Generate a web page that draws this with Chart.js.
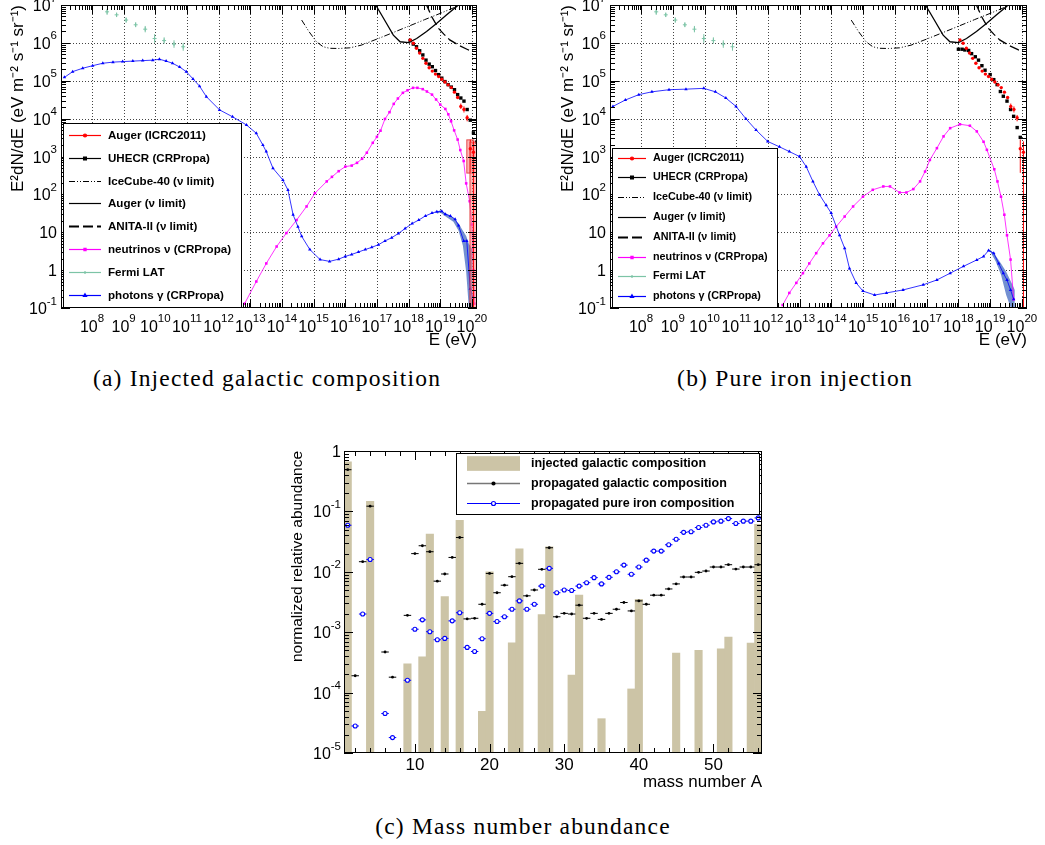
<!DOCTYPE html>
<html>
<head>
<meta charset="utf-8">
<script src="https://cdn.jsdelivr.net/npm/chart.js@4.4.1/dist/chart.umd.min.js"></script>
<style>
  body { margin: 0; background: #fff; width: 1045px; height: 845px; position: relative; overflow: hidden; }
  canvas { position: absolute; }
  .cap { position: absolute; font-family: "Liberation Serif", "DejaVu Serif", serif; font-size: 23.5px; letter-spacing: 1.2px;
         color: #000; transform: translateX(-50%); white-space: nowrap; line-height: 24px; }
</style>
</head>
<body>
<canvas id="chartA" width="490" height="352" style="left:0;top:0"></canvas>
<canvas id="chartB" width="500" height="352" style="left:540px;top:0"></canvas>
<canvas id="chartC" width="490" height="355" style="left:280px;top:440px"></canvas>
<div class="cap" style="left:267px;top:366px">(a) Injected galactic composition</div>
<div class="cap" style="left:795px;top:366px">(b) Pure iron injection</div>
<div class="cap" style="left:523px;top:814px">(c) Mass number abundance</div>
<script>
// ---------- spectra (a) and (b): E in eV, E^2 dN/dE in eV m^-2 s^-1 sr^-1 ----------
const fermiE  = [3.0e8, 6.0e8, 1.2e9, 2.4e9, 4.8e9, 9.5e9, 1.9e10, 3.9e10, 7.6e10];
const fermiF  = [6.6e6, 5.5e6, 4.0e6, 3.0e6, 2.3e6, 1.3e6, 1.15e6, 9.3e5, 7.9e5];
const fermiLo = [5.5e6, 4.8e6, 3.4e6, 2.6e6, 1.9e6, 1.0e6, 9.5e5, 7.4e5, 6.2e5];
const fermiHi = [7.9e6, 6.3e6, 4.7e6, 3.5e6, 2.8e6, 1.7e6, 1.4e6, 1.17e6, 1.0e6];

const augerE  = [1.12e18, 1.41e18, 1.78e18, 2.24e18, 2.82e18, 3.55e18, 4.47e18, 5.62e18, 7.08e18, 8.91e18,
                 1.12e19, 1.41e19, 1.78e19, 2.24e19, 2.82e19, 3.55e19, 4.47e19, 5.62e19, 7.08e19, 8.91e19, 1.12e20];
const augerF  = [1.2e6, 9.8e5, 7.2e5, 5.4e5, 3.9e5, 2.9e5, 2.2e5, 1.8e5, 1.5e5, 1.3e5,
                 1.1e5, 9.3e4, 7.8e4, 6.6e4, 5.0e4, 3.6e4, 2.1e4, 1.75e4, 1.05e4, 1.6e3, 1.3e3];
const augerLo = [null, null, null, null, null, null, null, null, null, null,
                 null, null, null, null, null, null, 1.8e4, 1.45e4, 8.5e3, 370, 0.1];
const augerHi = [null, null, null, null, null, null, null, null, null, null,
                 null, null, null, null, null, null, 2.5e4, 2.1e4, 1.25e4, 2.8e3, 2.5e3];
const augerSysLo = [null, null, null, null, null, null, null, null, null, null,
                    null, null, null, null, null, null, null, null, null, 365, 0.1];
const augerSysHi = [null, null, null, null, null, null, null, null, null, null,
                    null, null, null, null, null, null, null, null, null, 2.75e3, 2.4e3];

const iceCubeE = [4.2e14, 7.1e14, 1.23e15, 2.0e15, 3.2e15, 6.3e15, 1.4e16, 3.2e16, 1e17, 3.2e17, 1e18, 3.2e18, 1e19, 3.5e19, 5e19];
const iceCubeF = [4.0e6, 2.0e6, 1.07e6, 7.9e5, 7.2e5, 7.1e5, 7.4e5, 8.7e5, 1.26e6, 1.86e6, 2.75e6, 4.1e6, 6.0e6, 9.3e6, 1.05e7];
const augerNuE = [9.0e16, 9.8e16, 2.0e17, 3.3e17, 5.4e17, 1.0e18, 1.8e18, 3.7e18, 7.8e18, 1.6e19, 3.3e19, 3.8e19];
const augerNuF = [1.1e7, 9.1e6, 3.3e6, 1.6e6, 1.07e6, 1.02e6, 1.3e6, 2.0e6, 3.3e6, 5.5e6, 9.1e6, 1.05e7];
const anitaE   = [3.5e18, 5.4e18, 8.7e18, 1.3e19, 2.0e19, 4.0e19, 7.8e19, 1.0e20];
const anitaF   = [1.1e7, 4.9e6, 2.45e6, 1.7e6, 1.2e6, 8.5e5, 6.5e5, 6.2e5];

// (a) galactic composition
const uhecrGalE = [1.12e18, 1.41e18, 1.78e18, 2.24e18, 2.82e18, 3.55e18, 4.47e18, 5.62e18, 7.08e18, 8.91e18, 1.12e19,
                   1.41e19, 1.78e19, 2.24e19, 2.82e19, 3.55e19, 4.47e19, 5.62e19, 7.08e19, 8.91e19, 1.12e20, 1.41e20];
const uhecrGalF = [1.15e6, 9.3e5, 7.9e5, 6.2e5, 4.8e5, 3.5e5, 2.75e5, 2.35e5, 1.86e5, 1.45e5, 1.17e5,
                   9.5e4, 7.9e4, 6.8e4, 5.8e4, 4.3e4, 3.5e4, 2.9e4, 1.74e4, 9.1e3, 4.2e3, 2.4e3];
const nuGalE = [6.6e12, 1.55e13, 3.2e13, 6.8e13, 1.38e14, 2.9e14, 6.0e14, 1.1e15, 2.6e15, 3.8e15,
                6.2e15, 1.0e16, 1.6e16, 2.35e16, 3.4e16, 4.8e16, 7.4e16, 1.0e17, 1.3e17, 1.8e17,
                2.5e17, 3.4e17, 4.6e17, 6.6e17, 9.3e17, 1.38e18, 1.9e18, 2.8e18, 3.8e18, 5.5e18,
                7.4e18, 1.0e19, 1.45e19, 1.8e19, 2.2e19, 2.75e19, 3.55e19, 4.3e19, 5.5e19, 6.6e19,
                8.5e19, 1.0e20, 1.12e20, 1.2e20];
const nuGalF = [0.13, 0.5, 1.5, 4.2, 9.5, 21, 48, 107, 220, 290,
                410, 540, 575, 680, 870, 1260, 2300, 3300, 4800, 9800,
                14800, 24500, 34000, 48000, 56000, 65000, 65000, 60000, 52000, 43000,
                32000, 23500, 18000, 13000, 8500, 4900, 2800, 1480, 760, 195,
                66, 16, 1.0, 0.13];
const gammaGalE = [1.35e7, 2.45e7, 5.1e7, 1.05e8, 2.2e8, 4.6e8, 9.3e8, 1.95e9, 4.0e9, 8.3e9,
                   1.35e10, 2.2e10, 3.5e10, 5.9e10, 9.5e10, 1.55e11, 2.5e11, 4.1e11, 1.07e12, 2.75e12,
                   7.6e12, 1.55e13, 2.5e13, 3.2e13, 5.2e13, 1.07e14, 1.55e14, 2.25e14, 3.2e14, 4.2e14,
                   7.6e14, 1.6e15, 3.2e15, 6.2e15, 1.0e16, 1.6e16, 2.6e16, 4.3e16, 6.9e16, 1.12e17,
                   1.8e17, 2.95e17, 4.8e17, 7.8e17, 1.3e18, 2.1e18, 3.4e18, 5.5e18, 7.8e18, 1.12e19,
                   1.45e19, 2.1e19, 2.95e19, 3.8e19, 5.5e19, 6.9e19, 8.9e19, 1.07e20];
const gammaGalF = [1.23e5, 1.74e5, 2.14e5, 2.5e5, 2.9e5, 3.1e5, 3.2e5, 3.3e5, 3.4e5, 3.5e5,
                   3.7e5, 3.3e5, 2.9e5, 2.3e5, 1.74e5, 1.12e5, 7.2e4, 3.8e4, 1.7e4, 1.12e4,
                   6.8e3, 4.1e3, 2.0e3, 1.35e3, 490, 240, 130, 29, 14, 7.8,
                   3.5, 1.9, 1.7, 1.95, 2.3, 2.6, 3.0, 3.5, 4.0, 4.7,
                   5.9, 7.2, 9.3, 12.6, 17, 21, 27, 32, 35, 36,
                   30, 27, 22, 15, 5.9, 5.9, 0.32, 0.19];
const bandGalE  = [7.8e18, 1.0e19, 1.6e19, 2.6e19, 3.8e19, 5.2e19, 6.6e19, 8.0e19, 1.05e20];
const bandGalHi = [33, 38, 31, 24, 17, 11, 8, 5, 3.5];
const bandGalLo = [31, 33, 25, 19, 11, 4.4, 0.9, 0.1, 0.1];

// (b) pure iron injection
const uhecrFeE = [1.0e18, 1.3e18, 1.6e18, 2.1e18, 2.6e18, 3.4e18, 4.3e18, 5.5e18, 6.9e18, 1.0e19,
                  1.3e19, 1.66e19, 2.1e19, 2.6e19, 3.4e19, 4.4e19, 5.5e19, 7.1e19, 8.9e19];
const uhecrFeF = [6.8e5, 6.8e5, 6.5e5, 6.3e5, 5.2e5, 4.3e5, 3.5e5, 2.5e5, 1.9e5, 1.45e5,
                  1.07e5, 7.9e4, 5.2e4, 3.9e4, 2.9e4, 1.74e4, 1.15e4, 5.8e3, 3.2e3];
const nuFeE = [2.9e12, 4.7e12, 7.8e12, 1.26e13, 2.0e13, 3.3e13, 5.4e13, 8.7e13, 1.4e14, 2.6e14,
               4.8e14, 9.8e14, 2.0e15, 4.3e15, 7e15, 1.4e16, 2.3e16, 3.8e16, 6.2e16, 8.9e16,
               1.26e17, 2.1e17, 3.4e17, 5.5e17, 1.12e18, 2.3e18, 3.8e18, 6.2e18, 7.9e18, 1.35e19,
               1.7e19, 2.2e19, 2.8e19, 3.4e19, 4.4e19, 5.5e19];
const nuFeF = [0.12, 0.25, 0.46, 0.83, 1.5, 2.8, 5.1, 8.3, 14, 26,
               48, 87, 132, 162, 162, 112, 112, 138, 220, 400,
               810, 1660, 3400, 5600, 7100, 6500, 4600, 2450, 1500, 460,
               220, 87, 29, 8.3, 1.9, 0.17];
const gammaFeE = [1.3e7, 3.2e7, 8.5e7, 2.2e8, 7.6e8, 2.6e9, 9.5e9, 2.2e10, 4.7e10, 9.8e10,
                  2.0e11, 4.2e11, 9.8e11, 2.3e12, 4.7e12, 9.8e12, 1.6e13, 2.6e13, 4.2e13, 6.8e13,
                  9.8e13, 1.8e14, 2.6e14, 3.7e14, 6.0e14, 9.8e14, 2.3e15, 5.4e15, 1.8e16, 7.8e16,
                  2.1e17, 5.5e17, 1.45e18, 3.8e18, 6.2e18, 8.9e18, 1.3e19, 1.86e19, 2.6e19, 3.4e19,
                  4.4e19, 5.5e19];
const gammaFeF = [2.1e4, 3.1e4, 4.3e4, 5.1e4, 5.8e4, 6.0e4, 6.3e4, 5.1e4, 3.5e4, 2.1e4,
                  1.0e4, 5.0e3, 2.5e3, 1.8e3, 1.35e3, 1.0e3, 540, 220, 98, 52,
                  32, 8.3, 3.8, 1.1, 0.46, 0.28, 0.22, 0.25, 0.3, 0.41,
                  0.55, 0.83, 1.26, 1.86, 2.3, 3.3, 2.8, 1.5, 0.83, 0.55,
                  0.3, 0.17];
const bandFeE  = [8.9e18, 1.0e19, 1.5e19, 2.2e19, 3.2e19, 4.5e19, 6.0e19];
const bandFeHi = [3.4, 3.5, 2.4, 1.5, 0.9, 0.5, 0.3];
const bandFeLo = [3.2, 3.1, 1.7, 0.75, 0.22, 0.1, 0.1];

const eTicks    = [1e8, 1e9, 1e10, 1e11, 1e12, 1e13, 1e14, 1e15, 1e16, 1e17, 1e18, 1e19, 1e20];
const fluxTicks = [0.1, 1, 10, 100, 1e3, 1e4, 1e5, 1e6, 1e7];

// ---------- (c) mass number abundance ----------
const injA   = [1, 4, 9, 11, 12, 14, 16, 19, 20, 23, 24, 27, 28, 31, 32, 35, 39, 40, 45, 48, 51, 52, 55, 56];
const injVal = [0.66, 0.147, 3.0e-4, 3.9e-4, 0.042, 3.9e-3, 0.071, 4.9e-5, 0.01, 6.7e-4, 0.024, 1.95e-3,
                0.026, 1.95e-4, 4.1e-3, 3.7e-5, 1.15e-4, 3.5e-3, 4.5e-4, 5.0e-4, 5.3e-4, 8.3e-4, 6.6e-4, 0.061];
const propA  = [1, 2, 3, 4, 6, 7, 9, 10, 11, 12, 13, 14, 15, 16, 17, 18, 19, 20, 21, 22, 23, 24, 25, 26, 27, 28,
                29, 30, 31, 32, 33, 34, 35, 36, 37, 38, 39, 40, 41, 42, 43, 44, 45, 46, 47, 48, 49, 50, 51, 52, 53, 54, 55, 56];
const propGal = [0.49, 1.9e-4, 0.0147, 0.122, 4.7e-4, 1.8e-4,
                 1.9e-3, 0.02, 0.027, 0.0215, 7.0e-3, 9.2e-3, 0.0173, 0.037, 1.66e-3, 1.7e-3,
                 2.9e-3, 9.4e-3, 4.5e-3, 6.0e-3, 8.3e-3, 0.0138, 4.0e-3, 5.0e-3, 0.011, 0.025,
                 1.8e-3, 2.05e-3, 2.0e-3, 2.8e-3, 1.7e-3, 2.05e-3, 1.63e-3, 2.05e-3, 2.4e-3, 3.1e-3,
                 2.25e-3, 3.3e-3, 2.9e-3, 4.1e-3, 4.1e-3, 5.2e-3, 6.3e-3, 8.2e-3, 8.2e-3, 9.8e-3,
                 0.0103, 0.012, 0.012, 0.0131, 0.0111, 0.012, 0.012, 0.0131];
const propFe  = [0.059, 2.8e-5, 2.0e-3, 0.016, 4.5e-5, 1.8e-5,
                 1.6e-4, 1.12e-3, 1.6e-3, 1.02e-3, 7.5e-4, 7.9e-4, 1.54e-3, 2.1e-3, 5.6e-4, 4.8e-4,
                 7.8e-4, 2.05e-3, 1.5e-3, 1.8e-3, 2.4e-3, 3.3e-3, 2.4e-3, 2.9e-3, 5.8e-3, 0.0114,
                 4.5e-3, 5.0e-3, 4.9e-3, 5.8e-3, 6.6e-3, 8.0e-3, 6.3e-3, 8.1e-3, 0.01, 0.0129,
                 9.1e-3, 0.012, 0.0156, 0.022, 0.022, 0.028, 0.0345, 0.045, 0.046, 0.054,
                 0.059, 0.067, 0.069, 0.076, 0.063, 0.069, 0.069, 0.078];
const massTicks  = [10, 20, 30, 40, 50];
const abundTicks = [1e-5, 1e-4, 1e-3, 1e-2, 0.1, 1];

// ---------- helpers ----------
const FONT = '"Liberation Sans", Arial, Helvetica, sans-serif';
Chart.defaults.font.family = FONT;
Chart.defaults.color = '#000';

function pts(xs, ys) { return xs.map((x, i) => ({ x: x, y: ys[i] })); }
function zeroPad(s) { s.paddingLeft = 0; s.paddingRight = 0; s.paddingTop = 0; s.paddingBottom = 0; }

// tick label with a real raised exponent ("10" + "8"), baseline at y
function drawTickLabel(ctx, v, x, y, align, o) {
  let base = String(v), exp = '';
  if (o.pow) {
    const e = Math.round(Math.log10(v));
    base = e === 0 ? '1' : '10';
    exp = (e === 0 || e === 1) ? '' : String(e);
  }
  ctx.font = o.size + 'px ' + FONT;
  const wb = ctx.measureText(base).width;
  ctx.font = o.supSize + 'px ' + FONT;
  const we = exp ? ctx.measureText(exp).width : 0;
  const x0 = align === 'center' ? x - (wb + we) / 2 : x - (wb + we);
  ctx.textAlign = 'left';
  ctx.textBaseline = 'alphabetic';
  ctx.font = o.size + 'px ' + FONT;
  ctx.fillText(base, x0, y);
  if (exp) {
    ctx.font = o.supSize + 'px ' + FONT;
    ctx.fillText(exp, x0 + wb, y - o.rise);
  }
}

// tick positions for the ROOT-like inner tick marks
function axisMarks(scale, o) {
  const out = [];
  if (o.type === 'log') {
    const e0 = Math.floor(Math.log10(scale.min)), e1 = Math.ceil(Math.log10(scale.max));
    for (let e = e0; e <= e1; e++) {
      for (let k = 1; k <= 9; k++) {
        const v = k * Math.pow(10, e);
        if (v >= scale.min * 0.9999 && v <= scale.max * 1.0001) out.push({ v: v, major: k === 1 });
      }
    }
  } else {
    for (let v = Math.ceil(scale.min / o.step) * o.step; v <= scale.max; v += o.step) {
      out.push({ v: v, major: Math.abs(v % o.majorStep) < 1e-9 });
    }
  }
  return out;
}

const rootFrame = {
  id: 'rootFrame',
  beforeDatasetsDraw(chart, args, opts) {
    if (!opts.grid) return;
    const { ctx, chartArea: a } = chart;
    const sx = chart.scales.x, sy = chart.scales.y;
    ctx.save();
    ctx.strokeStyle = '#444';
    ctx.lineWidth = 1;
    ctx.setLineDash([1, 2]);
    ctx.beginPath();
    sx.ticks.forEach(t => {
      const p = Math.round(sx.getPixelForValue(t.value)) + 0.5;
      if (p > a.left + 1 && p < a.right - 1) { ctx.moveTo(p, a.top); ctx.lineTo(p, a.bottom); }
    });
    sy.ticks.forEach(t => {
      const p = Math.round(sy.getPixelForValue(t.value)) + 0.5;
      if (p > a.top + 1 && p < a.bottom - 1) { ctx.moveTo(a.left, p); ctx.lineTo(a.right, p); }
    });
    ctx.stroke();
    ctx.restore();
  },
  afterDatasetsDraw(chart, args, opts) {
    if (!opts.x) return;
    const { ctx, chartArea: a } = chart;
    const sx = chart.scales.x, sy = chart.scales.y;
    ctx.save();
    ctx.strokeStyle = '#000';
    ctx.lineWidth = 1;
    ctx.beginPath();
    axisMarks(sx, opts.x).forEach(m => {
      const p = Math.round(sx.getPixelForValue(m.v)) + 0.5;
      const len = m.major ? opts.x.major : opts.x.minor;
      ctx.moveTo(p, a.bottom); ctx.lineTo(p, a.bottom - len);
      ctx.moveTo(p, a.top); ctx.lineTo(p, a.top + len);
    });
    axisMarks(sy, opts.y).forEach(m => {
      const p = Math.round(sy.getPixelForValue(m.v)) + 0.5;
      const len = m.major ? opts.y.major : opts.y.minor;
      ctx.moveTo(a.left, p); ctx.lineTo(a.left + len, p);
      ctx.moveTo(a.right, p); ctx.lineTo(a.right - len, p);
    });
    ctx.stroke();
    ctx.strokeRect(Math.round(a.left) + 0.5, Math.round(a.top) + 0.5,
                   Math.round(a.right - a.left) - 1, Math.round(a.bottom - a.top) - 1);
    // tick labels
    ctx.fillStyle = '#000';
    const lx = opts.xLabels, ly = opts.yLabels;
    sx.ticks.forEach(t => drawTickLabel(ctx, t.value, sx.getPixelForValue(t.value), a.bottom + lx.dy, 'center', lx));
    sy.ticks.forEach(t => drawTickLabel(ctx, t.value, a.left - ly.dx, sy.getPixelForValue(t.value) + ly.dy, 'right', ly));
    ctx.restore();
  }
};

// error bars, systematic boxes and bin-width bars, drawn under each dataset's markers
const errorBars = {
  id: 'errorBars',
  beforeDatasetDraw(chart, args) {
    const ds = chart.data.datasets[args.index];
    if (!ds.yLo && !ds.xErr && !ds.sysLo) return;
    const { ctx, chartArea: a } = chart;
    const sx = chart.scales.x, sy = chart.scales.y;
    ctx.save();
    ctx.beginPath();
    ctx.rect(a.left, a.top, a.right - a.left, a.bottom - a.top);
    ctx.clip();
    ds.data.forEach((p, i) => {
      const px = sx.getPixelForValue(p.x);
      if (ds.sysLo && ds.sysLo[i] != null) {
        const y0 = sy.getPixelForValue(ds.sysHi[i]), y1 = sy.getPixelForValue(ds.sysLo[i]);
        ctx.fillStyle = 'rgba(255,120,120,0.55)';
        ctx.strokeStyle = 'rgba(225,40,40,0.8)';
        ctx.lineWidth = 1;
        ctx.fillRect(px - 3.5, y0, 7, y1 - y0);
        ctx.strokeRect(px - 3.5, y0, 7, y1 - y0);
      }
      ctx.strokeStyle = ds.borderColor;
      ctx.lineWidth = 1;
      if (ds.yLo && ds.yLo[i] != null) {
        ctx.beginPath();
        ctx.moveTo(px, sy.getPixelForValue(ds.yLo[i]));
        ctx.lineTo(px, sy.getPixelForValue(ds.yHi[i]));
        ctx.stroke();
      }
      if (ds.xErr) {
        const py = sy.getPixelForValue(p.y);
        ctx.beginPath();
        ctx.moveTo(sx.getPixelForValue(p.x - ds.xErr), py);
        ctx.lineTo(sx.getPixelForValue(p.x + ds.xErr), py);
        ctx.stroke();
      }
    });
    ctx.restore();
  }
};

// ROOT-style legend box inside the frame
const rootLegend = {
  id: 'rootLegend',
  afterDraw(chart, args, o) {
    if (!o.items) return;
    const { ctx } = chart;
    ctx.save();
    ctx.fillStyle = '#fff';
    ctx.fillRect(o.x, o.y, o.w, o.h);
    ctx.strokeStyle = '#000';
    ctx.lineWidth = 1;
    ctx.strokeRect(o.x + 0.5, o.y + 0.5, o.w, o.h);
    o.items.forEach((it, i) => {
      const ds = chart.data.datasets.find(d => d.key === it.key);
      const y = Math.round(o.rowY + i * o.rowH) + 0.5;
      if (it.box) {
        ctx.fillStyle = ds.backgroundColor;
        ctx.fillRect(o.sx0, y - o.boxH / 2, o.sx1 - o.sx0, o.boxH);
      } else {
        ctx.strokeStyle = it.lineColor || ds.borderColor;
        ctx.lineWidth = it.lineWidth || 1.2;
        ctx.setLineDash(ds.borderDash || []);
        ctx.beginPath();
        ctx.moveTo(o.sx0, y);
        ctx.lineTo(o.sx1, y);
        ctx.stroke();
        ctx.setLineDash([]);
        if (it.marker) {
          ctx.fillStyle = ds.pointBackgroundColor || ds.backgroundColor || ds.borderColor;
          ctx.strokeStyle = ds.borderColor;
          Chart.helpers.drawPoint(ctx, { pointStyle: ds.pointStyle, radius: it.marker, borderWidth: ds.pointBorderWidth || 1, rotation: 0 },
                                  (o.sx0 + o.sx1) / 2, y);
        }
      }
      ctx.fillStyle = '#000';
      ctx.font = o.font;
      ctx.textAlign = 'left';
      ctx.textBaseline = 'middle';
      ctx.fillText(it.label, o.tx, y);
    });
    ctx.restore();
  }
};

Chart.register(rootFrame, errorBars, rootLegend);

const RED = '#ff0000', BLUE = '#0000ff', MAGENTA = '#ff00ff', TEAL = '#7cc4a6';
const POW_X = { pow: true, size: 16, supSize: 11.5, rise: 9.5, dy: 23.5 };
const POW_Y = { pow: true, size: 16, supSize: 11.5, rise: 9.5, dx: 4, dy: 6 };

function spectrumChart(id, p) {
  const datasets = [
    { key: 'bandHi', data: pts(p.bandE, p.bandHi), showLine: true, fill: '+1', backgroundColor: 'rgba(100,132,204,0.9)',
      borderWidth: 0, pointRadius: 0, order: 10 },
    { key: 'bandLo', data: pts(p.bandE, p.bandLo), showLine: true, fill: false, borderWidth: 0, pointRadius: 0, order: 10 },
    { key: 'fermi', data: pts(fermiE, fermiF), yLo: fermiLo, yHi: fermiHi, borderColor: TEAL, backgroundColor: TEAL,
      pointStyle: 'cross', pointRadius: 2, pointBorderWidth: 1, order: 8 },
    { key: 'gamma', data: pts(p.gammaE, p.gammaF), showLine: true, borderColor: BLUE, backgroundColor: BLUE, borderWidth: 0.8,
      pointStyle: 'triangle', pointRadius: 2, pointBorderWidth: 0, order: 6 },
    { key: 'nu', data: pts(p.nuE, p.nuF), showLine: true, borderColor: MAGENTA, backgroundColor: MAGENTA, borderWidth: 0.8,
      pointStyle: 'rect', pointRadius: 1.8, pointBorderWidth: 0, order: 6 },
    { key: 'ice', data: pts(iceCubeE, iceCubeF), showLine: true, borderColor: '#000', borderWidth: 1,
      borderDash: [6, 2, 1, 2, 1, 2], pointRadius: 0, order: 5 },
    { key: 'augerNu', data: pts(augerNuE, augerNuF), showLine: true, borderColor: '#000', borderWidth: 1.3, pointRadius: 0, order: 5 },
    { key: 'anita', data: pts(anitaE, anitaF), showLine: true, borderColor: '#000', borderWidth: 1.3,
      borderDash: [10, 4], pointRadius: 0, order: 5 },
    { key: 'uhecr', data: pts(p.uhecrE, p.uhecrF), borderColor: '#000', backgroundColor: '#000',
      pointStyle: 'rect', pointRadius: 2.4, pointBorderWidth: 0, order: 3 },
    { key: 'auger', data: pts(augerE, augerF), yLo: augerLo, yHi: augerHi,
      sysLo: p.sys ? augerSysLo : null, sysHi: p.sys ? augerSysHi : null,
      borderColor: RED, backgroundColor: RED, pointStyle: 'circle', pointRadius: 1.7, pointBorderWidth: 0, order: 2 }
  ];
  return new Chart(document.getElementById(id), {
    type: 'scatter',
    data: { datasets: datasets },
    options: {
      responsive: false, animation: false, events: [],
      layout: { padding: { left: 0, top: 5, right: p.padRight, bottom: 0 } },
      plugins: {
        legend: { display: false }, tooltip: { enabled: false },
        rootFrame: { grid: true, x: { type: 'log', major: 9, minor: 5 }, y: { type: 'log', major: 9, minor: 5 },
                     xLabels: POW_X, yLabels: POW_Y },
        rootLegend: Object.assign({
          items: [
            { key: 'auger', label: 'Auger (ICRC2011)', marker: 1.5 },
            { key: 'uhecr', label: 'UHECR (CRPropa)', marker: 2 },
            { key: 'ice', label: 'IceCube-40 (\u03BD limit)' },
            { key: 'augerNu', label: 'Auger (\u03BD limit)' },
            { key: 'anita', label: 'ANITA-II (\u03BD limit)', lineWidth: 1.8 },
            { key: 'nu', label: 'neutrinos \u03BD (CRPropa)', marker: 1.5 },
            { key: 'fermi', label: 'Fermi LAT', marker: 1.5 },
            { key: 'gamma', label: 'photons \u03B3 (CRPropa)', marker: 1.8 }
          ]
        }, p.legend)
      },
      scales: {
        x: {
          type: 'logarithmic', min: 1.05e7, max: 1.45e20,
          afterBuildTicks: s => { s.ticks = eTicks.map(v => ({ value: v })); },
          afterFit: s => { s.height = 44; zeroPad(s); },
          grid: { display: false, drawTicks: false }, border: { display: false },
          ticks: { display: false },
          title: { display: true, text: 'E (eV)', align: 'end', color: '#000', font: { family: FONT, size: 17 }, padding: { top: 0, bottom: 1 } }
        },
        y: {
          type: 'logarithmic', min: 0.1, max: 1e7,
          afterBuildTicks: s => { s.ticks = fluxTicks.map(v => ({ value: v })); },
          afterFit: s => { s.width = p.yWidth; zeroPad(s); },
          grid: { display: false, drawTicks: false }, border: { display: false },
          ticks: { display: false },
          title: { display: true, text: 'E\u00B2dN/dE (eV m\u207B\u00B2 s\u207B\u00B9 sr\u207B\u00B9)', align: 'end', color: '#000',
                   font: { family: FONT, size: 17 }, padding: { top: p.yTitlePad, bottom: 0 } }
        }
      }
    }
  });
}

spectrumChart('chartA', {
  bandE: bandGalE, bandHi: bandGalHi, bandLo: bandGalLo, gammaE: gammaGalE, gammaF: gammaGalF,
  nuE: nuGalE, nuF: nuGalF, uhecrE: uhecrGalE, uhecrF: uhecrGalF, sys: true,
  padRight: 13, yWidth: 61, yTitlePad: 8,
  legend: { x: 63, y: 123, w: 178, h: 184, rowY: 135, rowH: 22.8, sx0: 69, sx1: 101, tx: 108, font: 'bold 11.6px ' + FONT }
});
spectrumChart('chartB', {
  bandE: bandFeE, bandHi: bandFeHi, bandLo: bandFeLo, gammaE: gammaFeE, gammaF: gammaFeF,
  nuE: nuFeE, nuF: nuFeF, uhecrE: uhecrFeE, uhecrF: uhecrFeF, sys: false,
  padRight: 13, yWidth: 70, yTitlePad: 18,
  legend: { x: 72, y: 148, w: 165, h: 159, rowY: 157.5, rowH: 19.8, sx0: 78, sx1: 106, tx: 113, font: 'bold 10.8px ' + FONT }
});

// ---------- (c) ----------
new Chart(document.getElementById('chartC'), {
  type: 'bar',
  data: {
    datasets: [
      { key: 'inj', type: 'bar', data: pts(injA, injVal), backgroundColor: '#ccc4a6', borderWidth: 0,
        barPercentage: 1.0, categoryPercentage: 1.0, order: 3 },
      { key: 'gal', type: 'scatter', data: pts(propA, propGal), xErr: 0.5, borderColor: '#000', backgroundColor: '#000',
        pointStyle: 'circle', pointRadius: 1.4, pointBorderWidth: 0, order: 2 },
      { key: 'fe', type: 'scatter', data: pts(propA, propFe), xErr: 0.5, borderColor: BLUE, backgroundColor: '#fff',
        pointBackgroundColor: '#fff', pointStyle: 'circle', pointRadius: 2.0, pointBorderWidth: 1.1, order: 1 }
    ]
  },
  options: {
    responsive: false, animation: false, events: [],
    layout: { padding: { left: 0, top: 11, right: 8, bottom: 0 } },
    plugins: {
      legend: { display: false }, tooltip: { enabled: false },
      rootFrame: { grid: false, x: { type: 'lin', step: 2, majorStep: 10, major: 9, minor: 5 }, y: { type: 'log', major: 9, minor: 5 },
                   xLabels: { pow: false, size: 17, dy: 17 }, yLabels: { pow: true, size: 16, supSize: 11.5, rise: 9.5, dx: 3, dy: 6 } },
      rootLegend: {
        x: 176, y: 13, w: 303, h: 61, rowY: 22.7, rowH: 20.3, sx0: 187, sx1: 240, tx: 251, boxH: 14.7,
        font: 'bold 12.5px ' + FONT,
        items: [
          { key: 'inj', label: 'injected galactic composition', box: true },
          { key: 'gal', label: 'propagated galactic composition', marker: 1.4, lineColor: '#777', lineWidth: 1.4 },
          { key: 'fe', label: 'propagated pure iron composition', marker: 2, lineWidth: 1.2 }
        ]
      }
    },
    scales: {
      x: {
        type: 'linear', min: 0.5, max: 56.5, offset: false,
        afterBuildTicks: s => { s.ticks = massTicks.map(v => ({ value: v })); },
        afterFit: s => { s.height = 42; zeroPad(s); },
        grid: { display: false, drawTicks: false }, border: { display: false },
        ticks: { display: false },
        title: { display: true, text: 'mass number A', align: 'end', color: '#000', font: { family: FONT, size: 17 }, padding: { top: 0, bottom: 2 } }
      },
      y: {
        type: 'logarithmic', min: 1e-5, max: 1,
        afterBuildTicks: s => { s.ticks = abundTicks.map(v => ({ value: v })); },
        afterFit: s => { s.width = 64; zeroPad(s); },
        grid: { display: false, drawTicks: false }, border: { display: false },
        ticks: { display: false },
        title: { display: true, text: 'normalized relative abundance', align: 'end', color: '#000',
                 font: { family: FONT, size: 15.5 }, padding: { top: 8, bottom: 0 } }
      }
    }
  }
});
</script>
</body>
</html>
